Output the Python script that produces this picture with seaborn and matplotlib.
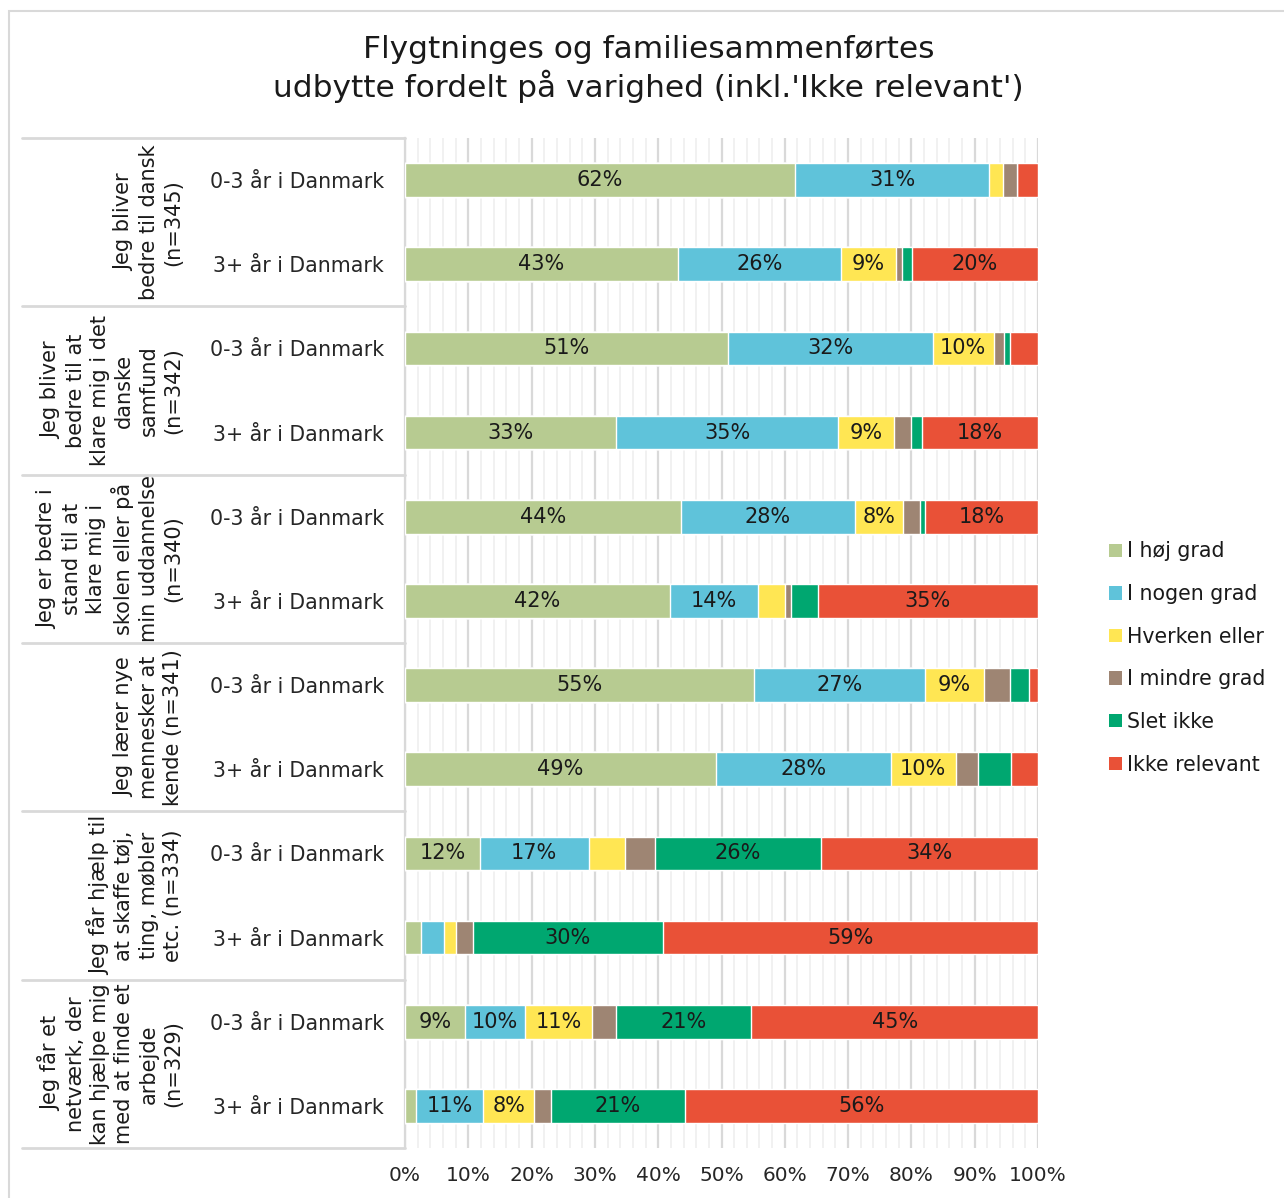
import numpy as np
import pandas as pd
import matplotlib
matplotlib.use("Agg")
import matplotlib.pyplot as plt
from matplotlib.patches import Patch, Rectangle
import seaborn as sns

# Data (percent of respondents)
groups = [
    "Jeg bliver\nbedre til dansk\n(n=345)",
    "Jeg bliver\nbedre til at\nklare mig i det\ndanske\nsamfund\n(n=342)",
    "Jeg er bedre i\nstand til at\nklare mig i\nskolen eller på\nmin uddannelse\n(n=340)",
    "Jeg lærer nye\nmennesker at\nkende (n=341)",
    "Jeg får hjælp til\nat skaffe tøj,\nting, møbler\netc. (n=334)",
    "Jeg får et\nnetværk, der\nkan hjælpe mig\nmed at finde et\narbejde\n(n=329)",
]
durations = ["0-3 år i Danmark", "3+ år i Danmark"]
categories = ["I høj grad", "I nogen grad", "Hverken eller", "I mindre grad", "Slet ikke", "Ikke relevant"]

hoj_grad = [61.6, 43.1, 51.0, 33.4, 43.6, 41.8, 55.1, 49.1, 11.8, 2.6, 9.4, 1.8]
nogen_grad = [30.7, 25.8, 32.4, 35.0, 27.5, 13.9, 27.0, 27.6, 17.2, 3.6, 9.6, 10.6]
hverken = [2.2, 8.7, 9.6, 8.9, 7.6, 4.4, 9.4, 10.3, 5.8, 1.8, 10.6, 8.0]
mindre_grad = [2.2, 0.9, 1.6, 2.7, 2.7, 0.9, 4.0, 3.5, 4.7, 2.7, 3.8, 2.6]
slet_ikke = [0.0, 1.6, 1.0, 1.6, 0.8, 4.2, 3.0, 5.2, 26.2, 30.0, 21.3, 21.3]
ikke_relevant = [3.3, 19.9, 4.4, 18.4, 17.8, 34.8, 1.5, 4.3, 34.3, 59.3, 45.3, 55.7]

colors = ["#B7CB91", "#5FC3DA", "#FFE653", "#9E8573", "#00A770", "#E95137"]

values = np.array([hoj_grad, nogen_grad, hverken, mindre_grad, slet_ikke, ikke_relevant])
rows = [f"r{i:02d}" for i in range(values.shape[1])]
row_labels = [durations[i % 2] for i in range(len(rows))]

sns.set_style("white")
plt.rcParams["font.family"] = ["DejaVu Sans"]
plt.rcParams["text.color"] = "#1a1a1a"

fig = plt.figure(figsize=(12.84, 11.98), dpi=100)
W, H = 1284, 1198
ax = fig.add_axes([405 / W, 1 - 1148 / H, 633 / W, 1010 / H])

# stacked bars: draw cumulative totals from the largest down
cum = np.cumsum(values, axis=0)
for k in range(len(categories) - 1, -1, -1):
    df = pd.DataFrame({"row": rows, "value": cum[k]})
    sns.barplot(data=df, x="value", y="row", orient="h", color=colors[k],
                saturation=1, width=0.4, errorbar=None, ax=ax, zorder=3)

# value labels
for k in range(len(categories)):
    for i in range(len(rows)):
        v = values[k, i]
        if v >= 7:
            ax.text(cum[k, i] - v / 2, i, f"{v:.0f}%", ha="center", va="center",
                    fontsize=15, color="#1a1a1a", zorder=4)

ax.set_xlim(0, 100)
ax.set_ylim(len(rows) - 0.5, -0.5)
ax.set_xticks(np.arange(0, 101, 10))
ax.set_xticklabels([f"{t}%" for t in range(0, 101, 10)], fontsize=14.5)
ax.set_xticks(np.arange(0, 101, 2), minor=True)
ax.set_yticks(range(len(rows)))
ax.set_yticklabels(row_labels, fontsize=14.8)
ax.tick_params(axis="x", which="both", length=0, pad=13)
ax.tick_params(axis="y", length=0, pad=15)
ax.set_xlabel("")
ax.set_ylabel("")
ax.grid(False)
for x in np.arange(0, 101, 2):
    major = x % 10 == 0
    ax.axvline(x, color="#D9D9D9" if major else "#EFEFEF", lw=1.6 if major else 1.2, zorder=1)

for s in ["top", "right", "bottom"]:
    ax.spines[s].set_visible(False)
ax.spines["left"].set_color("#D9D9D9")
ax.spines["left"].set_linewidth(1.6)

# group separators and group labels
ytr = ax.get_yaxis_transform()
left_x = (22 - 405) / 633
for b in np.arange(-0.5, len(rows), 2):
    ax.plot([left_x, 0], [b, b], transform=ytr, color="#D9D9D9", lw=2, clip_on=False)
for g, name in enumerate(groups):
    ax.text((183 - 405) / 633, 2 * g + 0.5, name, transform=ytr, rotation=90,
            ha="right", va="center", multialignment="center", fontsize=15,
            linespacing=1.27)

# title
fig.text(0.505, 1 - 69 / H, "Flygtninges og familiesammenførtes\nudbytte fordelt på varighed (inkl.'Ikke relevant')",
         ha="center", va="center", fontsize=22.5, linespacing=1.2)

# legend
handles = [Patch(facecolor=c, edgecolor="none", label=l) for c, l in zip(colors, categories)]
fig.legend(handles=handles, loc="center left", bbox_to_anchor=(1099 / W, 1 - 658 / H),
           frameon=False, fontsize=14.8, handlelength=0.62, handleheight=0.62,
           handletextpad=0.25, labelspacing=1.1, borderpad=0)

# outer frame
fig.patches.append(Rectangle((9 / W, -0.01), 1.02, 1 - 11 / H + 0.01, transform=fig.transFigure,
                             fill=False, edgecolor="#D9D9D9", lw=1.5))

fig.savefig("out.png", dpi=100)
